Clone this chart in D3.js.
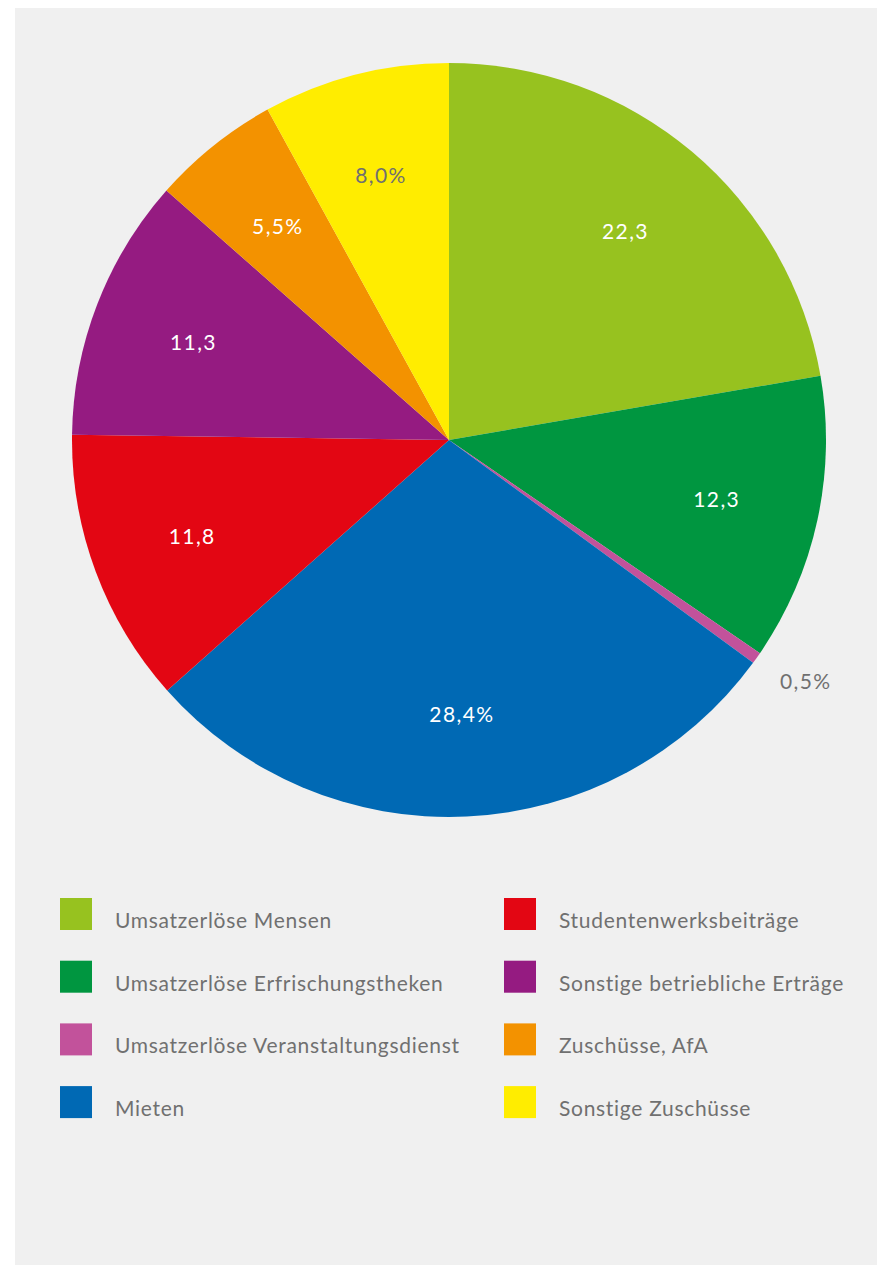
<!DOCTYPE html>
<html><head><meta charset="utf-8">
<script src="https://cdn.jsdelivr.net/npm/d3@7"></script>
<style>body{margin:0;background:#fff}svg{display:block}</style>
</head><body>
<svg id="c" width="877" height="1266"></svg>
<script>
const categories = ["Umsatzerlöse Mensen","Umsatzerlöse Erfrischungstheken","Umsatzerlöse Veranstaltungsdienst","Mieten","Studentenwerksbeiträge","Sonstige betriebliche Erträge","Zuschüsse, AfA","Sonstige Zuschüsse"];
const values = [22.3, 12.3, 0.5, 28.4, 11.8, 11.3, 5.5, 8.0];
const labels = ["22,3","12,3","0,5%","28,4%","11,8","11,3","5,5%","8,0%"];
const colors = ["#97c21f","#009640","#c2529b","#0069b4","#e30613","#951b81","#f39200","#ffed00"];
const labelColors = ["#fff","#fff","#707070","#fff","#fff","#fff","#fff","#707070"];
const outside = [false,false,true,false,false,false,false,false];

const svg = d3.select("#c");
svg.append("rect").attr("x",15).attr("y",8).attr("width",862).attr("height",1257).attr("fill","#f0f0f0");

const cx=449, cy=440, R=377;
const g = svg.append("g").attr("transform",`translate(${cx},${cy})`);
const pie = d3.pie().sort(null).value(d=>d)(values);
const arc = d3.arc().innerRadius(0).outerRadius(R);
g.selectAll("path").data(pie).join("path").attr("d",arc).attr("fill",(d,i)=>colors[i]);

const labArc = d3.arc().innerRadius(274).outerRadius(274);
const outArc = d3.arc().innerRadius(430).outerRadius(430);
g.selectAll("text").data(pie).join("text")
  .attr("transform",(d,i)=>{const p=(outside[i]?outArc:labArc).centroid(d); if(outside[i]){p[0]+=6;p[1]-=8;} return `translate(${p})`;})
  .attr("text-anchor","middle").attr("dy","0.4em")
  .attr("font-family","Lato, 'Open Sans', sans-serif").attr("font-size",21)
  .attr("letter-spacing","1.4px")
  .attr("fill",(d,i)=>labelColors[i])
  .text((d,i)=>labels[i]);

const leg = svg.append("g");
categories.forEach((c,i)=>{
  const col = Math.floor(i/4), row = i%4;
  const x = 60 + col*444, y = 898 + row*62.7;
  leg.append("rect").attr("x",x).attr("y",y).attr("width",32).attr("height",32).attr("fill",colors[i]);
  leg.append("text").attr("x",x+55).attr("y",y+30).attr("font-family","Lato, 'Open Sans', sans-serif")
    .attr("font-size",21).attr("letter-spacing","0.7px").attr("fill","#707070").text(c);
});
</script>
</body></html>
